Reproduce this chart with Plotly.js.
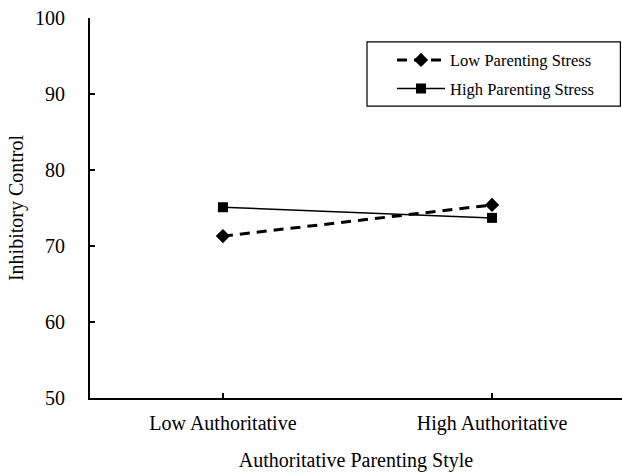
<!DOCTYPE html>
<html>
<head>
<meta charset="utf-8">
<script src="https://cdn.plot.ly/plotly-3.0.1.min.js"></script>
<style>html,body{margin:0;padding:0;background:#fff;}#chart{width:622px;height:475px;}</style>
</head>
<body>
<div id="chart"></div>
<script>
const categories = ["Low Authoritative", "High Authoritative"];
const seriesNames = ["Low Parenting Stress", "High Parenting Stress"];
const lowStress = [71.3, 75.4];
const highStress = [75.1, 73.7];
const yTicks = [50, 60, 70, 80, 90, 100];

const font = "'Liberation Serif', 'Times New Roman', serif";

const traces = [
  {
    x: categories, y: lowStress, name: seriesNames[0], type: "scatter", mode: "lines+markers",
    legendgroup: "a",
    line: {color: "#000", width: 3, dash: "10px,7px"},
    marker: {symbol: "diamond", size: 11, color: "#000"}
  },
  {
    x: categories, y: highStress, name: seriesNames[1], type: "scatter", mode: "lines+markers",
    legendgroup: "b",
    line: {color: "#000", width: 1.5},
    marker: {symbol: "square", size: 10, color: "#000"}
  }
];

const layout = {
  width: 622, height: 475,
  margin: {l: 90, r: 0, t: 18, b: 77},
  paper_bgcolor: "#fff", plot_bgcolor: "#fff",
  font: {family: font, color: "#000", size: 20},
  showlegend: true,
  legend: {
    x: 0.5677, y: 0.935, xanchor: "left", yanchor: "top",
    borderwidth: 0, bgcolor: "rgba(0,0,0,0)",
    font: {family: font, size: 16.5, color: "#000"},
    traceorder: "grouped", tracegroupgap: 4,
    itemwidth: 48
  },
  shapes: [{
    type: "rect", xref: "paper", yref: "paper",
    x0: 0.5207, x1: 0.997, y0: 0.768, y1: 0.937,
    line: {color: "#000", width: 1.2}, fillcolor: "#fff", layer: "above"
  }],
  xaxis: {
    type: "category", range: [-0.494, 1.483],
    showline: true, linecolor: "#000", linewidth: 2,
    ticks: "inside", ticklen: 5, tickwidth: 1.5, tickcolor: "#000",
    showgrid: false, zeroline: false,
    ticklabelstandoff: 6,
    tickfont: {family: font, size: 20},
    title: {text: "Authoritative Parenting Style", font: {family: font, size: 20}, standoff: 19}
  },
  yaxis: {
    range: [50, 100], tickvals: yTicks, ticktext: yTicks.map(String),
    showline: true, linecolor: "#000", linewidth: 2,
    ticks: "inside", ticklen: 5, tickwidth: 1.5, tickcolor: "#000",
    showgrid: false, zeroline: false,
    ticklabelstandoff: 19,
    tickfont: {family: font, size: 20},
    title: {text: "Inhibitory Control", font: {family: font, size: 20}, standoff: 6}
  }
};

Plotly.newPlot("chart", traces, layout, {displayModeBar: false, staticPlot: true});
</script>
</body>
</html>
